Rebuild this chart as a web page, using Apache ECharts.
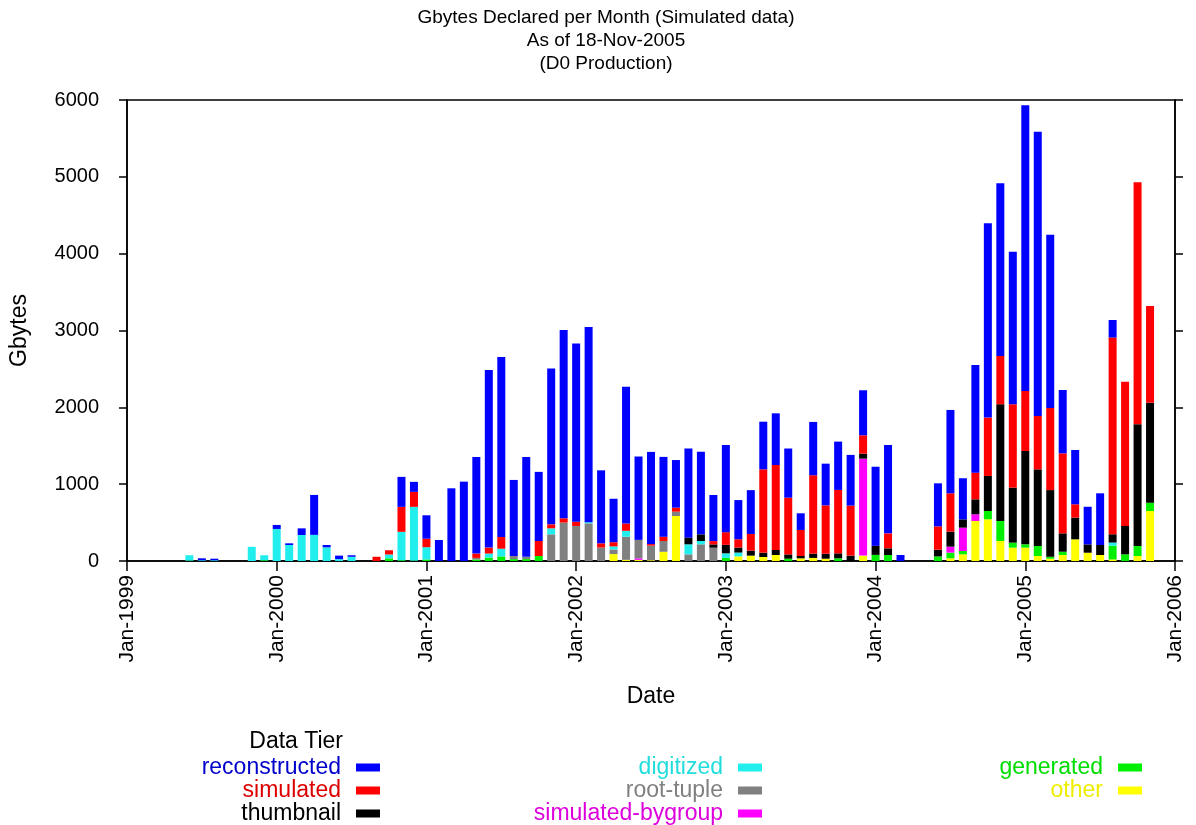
<!DOCTYPE html>
<html><head><meta charset="utf-8">
<script src="https://cdn.jsdelivr.net/npm/echarts@6/dist/echarts.min.js"></script>
<style>html,body{margin:0;padding:0;background:#fff}#c{width:1196px;height:825px}</style>
</head><body><div id="c"></div>
<script>
// Months (first of month) covered by the bars
const months = [
  '1999-06','1999-07','1999-08','1999-09','1999-10','1999-11','1999-12',
  '2000-01','2000-02','2000-03','2000-04','2000-05','2000-06','2000-07','2000-08','2000-09','2000-10','2000-11','2000-12',
  '2001-01','2001-02','2001-03','2001-04','2001-05','2001-06','2001-07','2001-08','2001-09','2001-10','2001-11','2001-12',
  '2002-01','2002-02','2002-03','2002-04','2002-05','2002-06','2002-07','2002-08','2002-09','2002-10','2002-11','2002-12',
  '2003-01','2003-02','2003-03','2003-04','2003-05','2003-06','2003-07','2003-08','2003-09','2003-10','2003-11','2003-12',
  '2004-01','2004-02','2004-03','2004-04','2004-05','2004-06','2004-07','2004-08','2004-09','2004-10','2004-11','2004-12',
  '2005-01','2005-02','2005-03','2005-04','2005-05','2005-06','2005-07','2005-08','2005-09','2005-10','2005-11'
];
const reconstructed = [
  0,25,20,0,0,0,0,
  52,22,87,520,30,45,20,0,0,0,390,130,
  305,273,946,1033,1258,2310,2343,990,1300,900,2030,2450,
  2320,2540,950,565,1780,1085,1200,1040,620,1160,1075,600,
  1135,510,570,620,673,640,217,694,543,629,660,586,
  1030,1150,78,0,0,560,1085,535,1400,2528,2248,1986,
  3720,3700,2256,825,707,490,673,229,0,0,0
];
const simulated = [
  0,0,0,0,0,0,0,
  0,0,0,0,0,0,0,0,55,55,325,195,
  110,0,0,0,57,78,152,0,0,195,52,56,
  56,0,55,55,95,0,20,55,52,0,0,43,
  165,108,217,1085,1106,738,339,1020,629,825,651,239,
  0,195,0,0,0,304,499,0,347,760,629,1085,
  781,694,1068,1041,174,0,0,2560,1878,3150,1259
];
const thumbnail = [
  0,0,0,0,0,0,0,
  0,0,0,0,0,0,0,0,0,0,0,0,
  0,0,0,0,0,0,0,0,0,0,0,0,
  0,0,0,0,0,0,0,0,0,87,87,43,
  110,65,65,56,65,56,30,56,65,65,70,65,
  117,87,0,0,0,87,195,108,195,456,1519,716,
  1215,998,868,239,282,108,130,108,369,1584,1302
];
const digitized = [
  70,10,10,0,0,185,65,
  417,208,338,340,178,25,55,0,0,50,370,700,
  160,0,0,0,0,52,100,0,0,0,78,0,
  0,15,0,40,78,0,0,0,0,130,43,0,
  60,50,0,0,0,0,0,0,0,0,0,0,
  0,0,0,0,0,0,0,0,0,0,0,0,
  0,0,0,0,0,0,0,40,0,0,0
];
const rootTuple = [
  0,0,0,0,0,0,0,
  0,0,0,0,0,0,0,0,0,0,0,0,
  0,0,0,0,20,0,0,40,30,0,347,500,
  456,490,175,60,300,240,190,140,56,87,217,173,
  0,0,0,0,0,0,0,0,0,0,0,0,
  0,0,0,0,0,0,0,0,0,0,0,0,
  0,0,0,0,0,0,0,0,0,0,0
];
const simulatedBygroup = [
  0,0,0,0,0,0,0,
  0,0,0,0,0,0,0,0,0,0,0,0,
  0,0,0,0,0,0,0,0,0,0,0,0,
  0,0,0,0,0,20,0,0,0,0,0,0,
  0,0,0,0,0,0,0,0,0,0,0,1262,
  0,0,0,0,0,0,78,304,87,0,0,0,
  0,0,0,0,0,0,0,0,0,0,0
];
const generated = [
  5,0,0,0,0,0,10,
  0,0,0,0,0,0,0,0,0,35,10,5,
  20,0,0,0,20,45,60,25,25,65,0,0,
  0,0,0,0,0,0,0,0,0,0,0,0,
  40,0,0,0,0,30,0,0,0,35,0,0,
  80,78,0,0,0,60,74,43,0,108,260,65,
  43,130,25,43,0,0,0,180,87,130,108
];
const other = [
  0,0,0,0,0,0,0,
  0,0,0,0,0,0,0,0,0,0,0,0,
  0,0,0,0,0,0,0,0,0,0,0,0,
  0,0,0,90,15,15,10,120,586,0,0,0,
  0,60,70,52,78,0,35,40,30,0,0,70,
  0,0,0,0,0,0,35,87,521,543,260,174,
  174,65,30,78,282,108,78,20,0,65,651
];
const monthNames = ['Jan','Feb','Mar','Apr','May','Jun','Jul','Aug','Sep','Oct','Nov','Dec'];
const firstYear = 1999, lastYear = 2006;
const titleLines = ['Gbytes Declared per Month (Simulated data)','As of 18-Nov-2005','(D0 Production)'];

const FONT = 'Liberation Sans';

// full month axis Jan-1999 .. Jan-2006 (category labels)
const axisMonths = [];
for (let y = firstYear; y <= lastYear; y++) {
  for (let m = 0; m < 12; m++) {
    if (y === lastYear && m > 0) break;
    axisMonths.push(monthNames[m] + '-' + y);
  }
}
function monthIndex(s){ const p = s.split('-').map(Number); return (p[0]-firstYear)*12 + (p[1]-1); }

// stacking order bottom -> top
const tiers = [
  {name:'other', data: other, color:'#ffff00'},
  {name:'generated', data: generated, color:'#00ee00'},
  {name:'simulated-bygroup', data: simulatedBygroup, color:'#ff00ff'},
  {name:'root-tuple', data: rootTuple, color:'#808080'},
  {name:'digitized', data: digitized, color:'#22eeee'},
  {name:'thumbnail', data: thumbnail, color:'#000000'},
  {name:'simulated', data: simulated, color:'#ff0000'},
  {name:'reconstructed', data: reconstructed, color:'#0000ff'}
];
const colorOf = {}; tiers.forEach(t => colorOf[t.name] = t.color);
const textColorOf = {
  'reconstructed':'#0000cc','simulated':'#dd0000','thumbnail':'#000000',
  'digitized':'#22dddd','root-tuple':'#808080','simulated-bygroup':'#dd00dd',
  'generated':'#00dd00','other':'#eeee00'
};

const series = tiers.map(t => {
  const full = axisMonths.map(() => 0);
  months.forEach((m, i) => { full[monthIndex(m)] = t.data[i]; });
  return {
    name: t.name, type: 'bar', stack: 'total', barWidth: 8,
    itemStyle: { color: t.color },
    emphasis: { disabled: true },
    data: full
  };
});

function legendCol(names, right){
  return {
    orient: 'vertical', right: right, top: 756, padding: 0, itemGap: 0,
    align: 'right', icon: 'rect', itemWidth: 24, itemHeight: 8, selectedMode: false,
    data: names.map(n => ({ name: n, itemStyle: { color: colorOf[n] },
      textStyle: { color: textColorOf[n] } })),
    textStyle: { fontFamily: FONT, fontSize: 23, lineHeight: 22, padding: [0, 10, 0, 0] }
  };
}

const chart = echarts.init(document.getElementById('c'), null, { renderer: 'canvas' });
chart.setOption({
  animation: false,
  backgroundColor: '#fff',
  grid: { left: 125, right: 21, top: 100, bottom: 264, show: true, borderColor: '#000', borderWidth: 1.5, backgroundColor: 'transparent' },
  xAxis: {
    type: 'category', data: axisMonths, boundaryGap: false,
    name: 'Date', nameLocation: 'middle', nameGap: 124,
    nameTextStyle: { fontFamily: FONT, fontSize: 23, color: '#000' },
    axisLine: { show: true, lineStyle: { color: '#000', width: 1.5 } },
    axisTick: { show: true, interval: 11, length: 10, lineStyle: { color: '#000', width: 1.5 } },
    axisLabel: { interval: 11, rotate: 90, margin: 14, fontFamily: FONT, fontSize: 21, color: '#000', showMaxLabel: true },
    splitLine: { show: false }
  },
  yAxis: [{
    type: 'value', min: 0, max: 6000, interval: 1000,
    name: 'Gbytes', nameLocation: 'middle', nameGap: 96,
    nameTextStyle: { fontFamily: FONT, fontSize: 23, color: '#000' },
    axisLine: { show: true, lineStyle: { color: '#000', width: 1.5 } },
    axisTick: { show: true, length: 8, lineStyle: { color: '#000', width: 1.5 } },
    axisLabel: { margin: 28, fontFamily: FONT, fontSize: 20, color: '#000', formatter: v => String(v) },
    splitLine: { show: false }
  }, {
    type: 'value', min: 0, max: 6000, interval: 1000, position: 'right',
    axisLine: { show: true, lineStyle: { color: '#000', width: 1.5 } },
    axisTick: { show: true, length: 8, lineStyle: { color: '#000', width: 1.5 } },
    axisLabel: { show: false }, splitLine: { show: false }
  }],
  legend: [
    legendCol(['reconstructed','simulated','thumbnail'], 816),
    legendCol(['digitized','root-tuple','simulated-bygroup'], 434),
    legendCol(['generated','other'], 54)
  ],
  graphic: [
    ...titleLines.map((t, i) => ({ type: 'text', x: 606, y: 18 + i * 23,
      style: { text: t, font: '19px ' + FONT, fill: '#000', textAlign: 'center', textVerticalAlign: 'middle' } })),
    { type: 'text', x: 343, y: 742, style: { text: 'Data Tier', font: '23px ' + FONT, fill: '#000', textAlign: 'right', textVerticalAlign: 'middle' } }
  ],
  series: series
});
</script></body></html>
